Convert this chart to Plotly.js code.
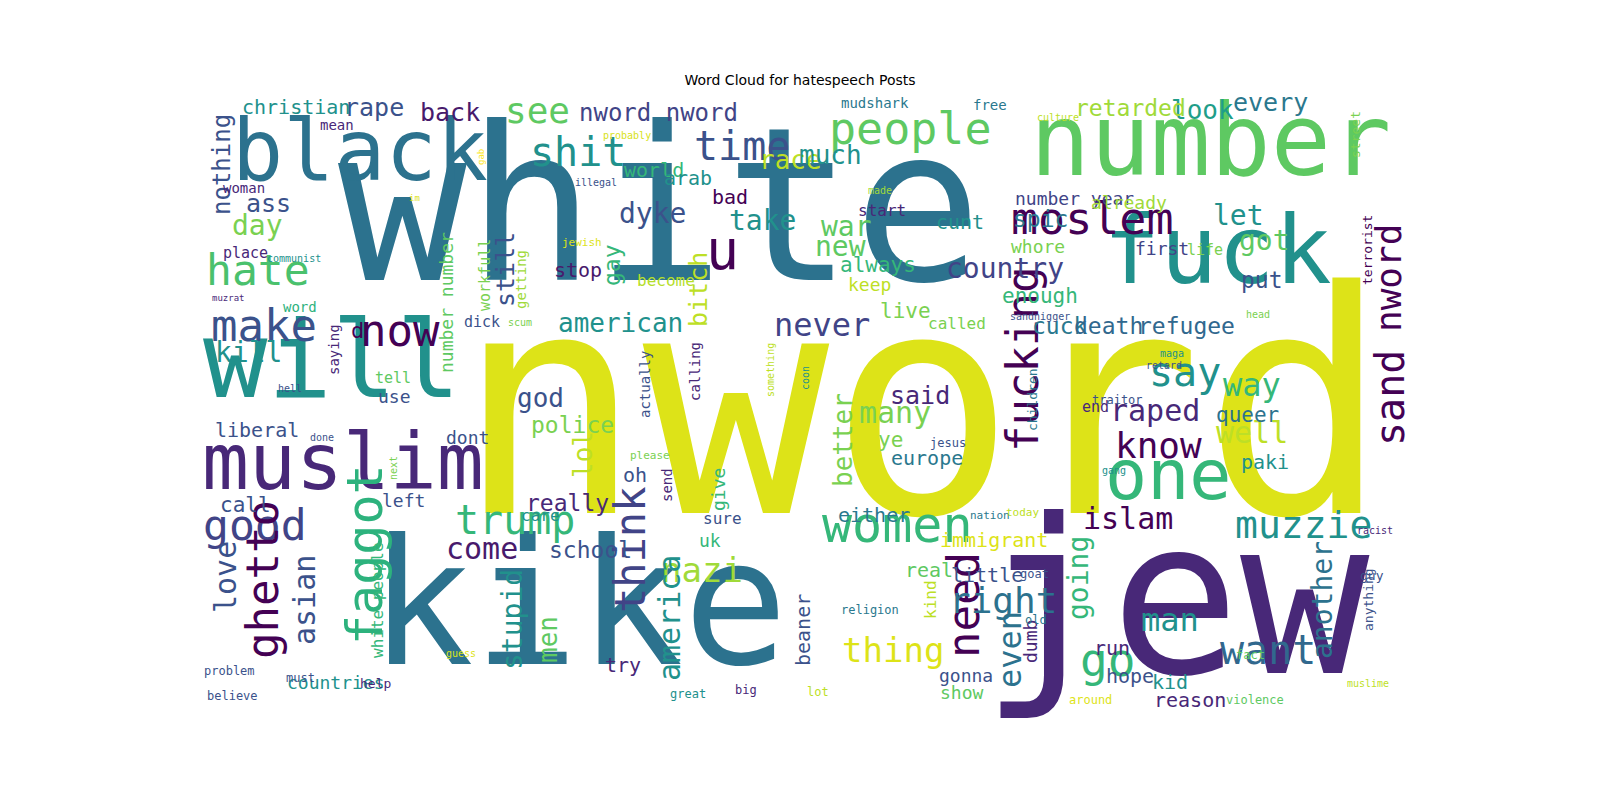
<!DOCTYPE html>
<html>
<head>
<meta charset="utf-8">
<script src="https://cdn.plot.ly/plotly-3.0.1.min.js"></script>
<style>html,body{margin:0;padding:0;background:#fff;}#chart{width:1600px;height:800px;}</style>
</head>
<body>
<div id="chart"></div>
<script>
// word, x, y (reference pixels), font size, colour, vertical
const cloud = [
  ['white', 660, 205, 214, '#2c728e', 0],
  ['nword', 922, 405, 310, '#dde318', 0],
  ['kike', 578, 603, 174, '#2c728e', 0],
  ['jew', 1175, 598, 215, '#482878', 0],
  ['number', 1210, 140, 100, '#5ec962', 0],
  ['fuck', 1217, 250, 95, '#21918c', 0],
  ['black', 360, 150, 85, '#2c728e', 0],
  ['will', 332, 360, 107, '#21918c', 0],
  ['muslim', 343, 462, 78, '#482878', 0],
  ['one', 1168, 475, 70, '#35b779', 0],
  ['women', 897, 525, 50, '#35b779', 0],
  ['people', 910, 128, 45, '#5ec962', 0],
  ['moslem', 1092, 218, 45, '#440154', 0],
  ['know', 1158, 445, 36, '#440154', 0],
  ['fucking', 1022, 360, 44, '#440154', 1],
  ['faggot', 365, 555, 50, '#2db27d', 1],
  ['good', 255, 525, 43, '#414487', 0],
  ['hate', 258, 270, 43, '#4ac16d', 0],
  ['muzzie', 1303, 525, 38, '#21918c', 0],
  ['trump', 515, 520, 40, '#35b779', 0],
  ['shit', 578, 152, 40, '#21918c', 0],
  ['time', 742, 146, 40, '#3b528b', 0],
  ['u', 722, 250, 55, '#440154', 0],
  ['sand', 1390, 398, 40, '#440154', 1],
  ['nword', 1388, 278, 36, '#440154', 1],
  ['make', 264, 325, 44, '#3b528b', 0],
  ['now', 400, 330, 44, '#440154', 0],
  ['ghetto', 262, 580, 44, '#440154', 1],
  ['think', 630, 550, 42, '#414487', 1],
  ['need', 963, 605, 44, '#440154', 1],
  ['want', 1268, 650, 40, '#31688e', 0],
  ['go', 1107, 660, 46, '#35b779', 0],
  ['say', 1185, 372, 40, '#21918c', 0],
  ['right', 1003, 600, 36, '#2c728e', 0],
  ['thing', 893, 650, 34, '#dde318', 0],
  ['see', 537, 110, 36, '#5ec962', 0],
  ['never', 822, 325, 32, '#414487', 0],
  ['nazi', 702, 570, 34, '#a0da39', 0],
  ['islam', 1128, 518, 30, '#440154', 0],
  ['america', 669, 618, 30, '#21918c', 1],
  ['man', 1170, 620, 32, '#21918c', 0],
  ['many', 895, 412, 30, '#7ad151', 0],
  ['even', 1010, 650, 32, '#2c728e', 1],
  ['way', 1252, 385, 32, '#35b779', 0],
  ['raped', 1155, 410, 30, '#482878', 0],
  ['well', 1252, 432, 30, '#bddf26', 0],
  ['come', 482, 548, 30, '#481a6c', 0],
  ['asian', 304, 600, 30, '#3b528b', 1],
  ['love', 225, 577, 30, '#3b528b', 1],
  ['stupid', 512, 620, 28, '#21918c', 1],
  ['another', 1322, 600, 28, '#2c728e', 1],
  ['going', 1078, 578, 28, '#35b779', 1],
  ['kill', 248, 352, 28, '#21918c', 0],
  ['day', 257, 225, 28, '#7ad151', 0],
  ['dyke', 652, 213, 28, '#3b528b', 0],
  ['take', 762, 220, 28, '#21918c', 0],
  ['race', 790, 160, 26, '#bddf26', 0],
  ['much', 830, 155, 26, '#21918c', 0],
  ['war', 846, 226, 28, '#5ec962', 0],
  ['new', 840, 246, 28, '#5ec962', 0],
  ['let', 1238, 215, 28, '#21918c', 0],
  ['got', 1264, 240, 28, '#5ec962', 0],
  ['country', 1005, 268, 28, '#414487', 0],
  ['nothing', 222, 165, 24, '#3b528b', 1],
  ['lol', 583, 455, 26, '#bddf26', 1],
  ['better', 843, 440, 26, '#7ad151', 1],
  ['men', 548, 640, 26, '#5ec962', 1],
  ['god', 540, 398, 26, '#3b528b', 0],
  ['american', 620, 323, 26, '#21918c', 0],
  ['look', 1202, 110, 26, '#1f9e89', 0],
  ['still', 505, 270, 25, '#3b528b', 1],
  ['bitch', 698, 290, 25, '#bddf26', 1],
  ['ass', 268, 203, 25, '#3b528b', 0],
  ['rape', 374, 107, 25, '#3b528b', 0],
  ['back', 450, 112, 25, '#481a6c', 0],
  ['every', 1270, 102, 25, '#2a788e', 0],
  ['said', 920, 395, 25, '#482878', 0],
  ['gay', 612, 265, 23, '#35b779', 1],
  ['retarded', 1130, 108, 23, '#a0da39', 0],
  ['nword nword', 658, 113, 24, '#414487', 0],
  ['police', 572, 425, 23, '#7ad151', 0],
  ['really', 567, 503, 23, '#482878', 0],
  ['school', 590, 550, 23, '#3b528b', 0],
  ['spic', 1040, 219, 23, '#2a788e', 0],
  ['put', 1262, 280, 23, '#3b528b', 0],
  ['cuck', 1060, 326, 23, '#2a788e', 0],
  ['death', 1108, 326, 23, '#31688e', 0],
  ['refugee', 1186, 326, 23, '#31688e', 0],
  ['always', 878, 265, 21, '#35b779', 0],
  ['enough', 1040, 296, 21, '#35b779', 0],
  ['live', 905, 311, 21, '#7ad151', 0],
  ['d', 357, 330, 22, '#440154', 0],
  ['call', 245, 505, 21, '#3b528b', 0],
  ['queer', 1247, 415, 21, '#2c728e', 0],
  ['ye', 890, 440, 21, '#7ad151', 0],
  ['christian', 296, 107, 20, '#21918c', 0],
  ['liberal', 257, 430, 20, '#3b528b', 0],
  ['oh', 635, 475, 20, '#3b528b', 0],
  ['world', 654, 170, 20, '#35b779', 0],
  ['arab', 688, 178, 20, '#21918c', 0],
  ['bad', 730, 197, 20, '#440154', 0],
  ['stop', 578, 270, 20, '#481a6c', 0],
  ['cunt', 960, 222, 20, '#21918c', 0],
  ['europe', 927, 458, 20, '#2a788e', 0],
  ['either', 874, 515, 20, '#2a788e', 0],
  ['immigrant', 994, 540, 20, '#dde318', 0],
  ['real', 929, 570, 20, '#5ec962', 0],
  ['little', 987, 575, 20, '#3b528b', 0],
  ['paki', 1265, 462, 20, '#21918c', 0],
  ['beaner', 803, 630, 20, '#3b528b', 1],
  ['run', 1112, 648, 20, '#482878', 0],
  ['hope', 1130, 676, 20, '#3b528b', 0],
  ['kid', 1170, 682, 20, '#21918c', 0],
  ['reason', 1190, 700, 20, '#482878', 0],
  ['try', 623, 665, 20, '#482878', 0],
  ['gonna', 966, 675, 18, '#3b528b', 0],
  ['show', 962, 692, 18, '#5ec962', 0],
  ['number number', 446, 303, 18, '#5ec962', 1],
  ['give', 718, 490, 18, '#35b779', 1],
  ['dumb', 1030, 642, 18, '#482878', 1],
  ['left', 403, 500, 18, '#3b528b', 0],
  ['dont', 467, 437, 18, '#3b528b', 0],
  ['uk', 710, 540, 18, '#35b779', 0],
  ['use', 394, 396, 18, '#3b528b', 0],
  ['countries', 336, 682, 18, '#21918c', 0],
  ['number year', 1074, 198, 18, '#414487', 0],
  ['already', 1129, 202, 18, '#a0da39', 0],
  ['whore', 1038, 246, 18, '#7ad151', 0],
  ['first', 1162, 248, 18, '#414487', 0],
  ['keep', 869, 284, 18, '#bddf26', 0],
  ['white people', 377, 600, 16, '#35b779', 1],
  ['start', 882, 210, 16, '#482878', 0],
  ['called', 957, 323, 16, '#7ad151', 0],
  ['become', 666, 280, 16, '#b5de2b', 0],
  ['care', 540, 515, 16, '#21918c', 0],
  ['sure', 722, 518, 16, '#3b528b', 0],
  ['kind', 930, 600, 16, '#bddf26', 1],
  ['workfull', 485, 275, 15, '#7ad151', 1],
  ['place', 245, 253, 15, '#482878', 0],
  ['tell', 393, 378, 15, '#5ec962', 0],
  ['dick', 482, 322, 15, '#3b528b', 0],
  ['life', 1205, 250, 15, '#7ad151', 0],
  ['end', 1095, 407, 15, '#482878', 0],
  ['saying', 334, 350, 14, '#482878', 1],
  ['getting', 521, 280, 14, '#a0da39', 1],
  ['actually', 645, 385, 14, '#3b528b', 1],
  ['calling', 695, 372, 14, '#482878', 1],
  ['send', 667, 485, 14, '#482878', 1],
  ['word', 300, 307, 14, '#2db27d', 0],
  ['mean', 337, 125, 14, '#482878', 0],
  ['woman', 244, 188, 14, '#482878', 0],
  ['mudshark', 875, 103, 14, '#2a788e', 0],
  ['free', 990, 105, 14, '#2a788e', 0],
  ['help', 375, 683, 13, '#482878', 0],
  ['children', 1032, 400, 13, '#2a788e', 1],
  ['anything', 1368, 600, 13, '#3b528b', 1],
  ['guy', 1372, 575, 13, '#3b528b', 0],
  ['street', 1355, 135, 13, '#7ad151', 1],
  ['terrorist', 1367, 250, 13, '#440154', 1],
  ['problem', 229, 671, 12, '#3b528b', 0],
  ['must', 300, 678, 12, '#3b528b', 0],
  ['believe', 232, 696, 12, '#3b528b', 0],
  ['great', 688, 694, 12, '#21918c', 0],
  ['big', 746, 690, 12, '#482878', 0],
  ['jesus', 948, 443, 12, '#3b528b', 0],
  ['goat', 1034, 574, 12, '#3b528b', 0],
  ['religion', 870, 610, 12, '#2a788e', 0],
  ['old', 1036, 620, 12, '#2a788e', 0],
  ['traitor', 1117, 400, 12, '#3b528b', 0],
  ['lot', 818, 692, 12, '#bddf26', 0],
  ['around', 1090, 700, 12, '#dde318', 0],
  ['violence', 1255, 700, 12, '#5ec962', 0],
  ['fact', 1250, 655, 12, '#5ec962', 0],
  ['jewish', 582, 242, 11, '#dde318', 0],
  ['please', 650, 455, 11, '#7ad151', 0],
  ['nation', 990, 515, 11, '#2a788e', 0],
  ['today', 1022, 512, 11, '#bddf26', 0],
  ['probably', 627, 135, 10, '#d8e219', 0],
  ['culture', 1058, 117, 10, '#bddf26', 0],
  ['communist', 294, 258, 10, '#21918c', 0],
  ['illegal', 596, 182, 10, '#3b528b', 0],
  ['made', 880, 190, 10, '#a0da39', 0],
  ['done', 322, 437, 10, '#3b528b', 0],
  ['hell', 290, 388, 10, '#3b528b', 0],
  ['scum', 520, 322, 10, '#7ad151', 0],
  ['sandnigger', 1040, 316, 10, '#3b528b', 0],
  ['head', 1258, 314, 10, '#7ad151', 0],
  ['maga', 1172, 353, 10, '#21918c', 0],
  ['retard', 1164, 365, 10, '#3b528b', 0],
  ['gang', 1114, 470, 10, '#21918c', 0],
  ['racist', 1375, 530, 10, '#482878', 0],
  ['muslime', 1368, 683, 10, '#bddf26', 0],
  ['guess', 461, 653, 10, '#dde318', 0],
  ['muzrat', 228, 298, 9, '#482878', 0],
  ['im', 414, 198, 9, '#dde318', 0],
  ['next', 393, 468, 10, '#7ad151', 1],
  ['gab', 481, 157, 9, '#fde725', 1],
  ['something', 770, 370, 10, '#bddf26', 1],
  ['coon', 805, 378, 10, '#21918c', 1]
];

const words = cloud.map(r => r[0]);
const wordX = cloud.map(r => r[1]);
const wordY = cloud.map(r => r[2]);
const wordSize = cloud.map(r => r[3]);
const wordColor = cloud.map(r => r[4]);
const wordVertical = cloud.map(r => r[5]);

const annotations = words.map((w, i) => ({
  text: w,
  x: wordX[i],
  y: wordY[i],
  xref: 'x',
  yref: 'y',
  showarrow: false,
  xanchor: 'center',
  yanchor: 'middle',
  textangle: wordVertical[i] ? -90 : 0,
  font: { family: 'DejaVu Sans Mono, monospace', size: wordSize[i], color: wordColor[i] },
}));

const layout = {
  width: 1600,
  height: 800,
  margin: { l: 205, r: 205, t: 88, b: 88 },
  paper_bgcolor: '#ffffff',
  plot_bgcolor: '#ffffff',
  showlegend: false,
  title: {
    text: 'Word Cloud for hatespeech Posts',
    x: 0.5,
    y: 0.9,
    yanchor: 'middle',
    font: { family: 'DejaVu Sans, sans-serif', size: 14, color: '#000000' },
  },
  xaxis: { range: [205, 1395], visible: false, fixedrange: true },
  yaxis: { range: [712, 88], visible: false, fixedrange: true },
  annotations: annotations,
};

// empty trace so the axes exist
Plotly.newPlot('chart', [{ x: [], y: [], type: 'scatter', mode: 'markers' }], layout, { displayModeBar: false, staticPlot: true });
</script>
</body>
</html>
